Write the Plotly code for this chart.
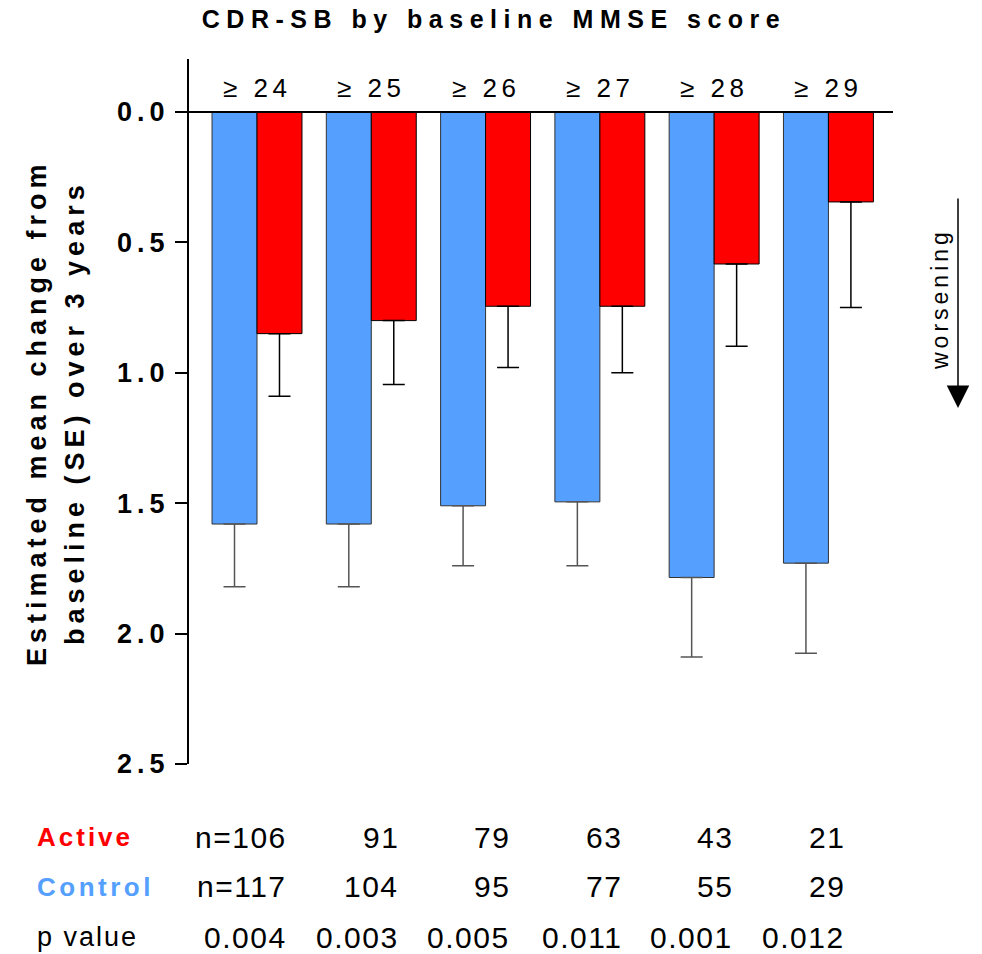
import plotly.graph_objects as go

# Baseline MMSE strata and the CDR-SB change (mean, SE) per arm
categories = ["≥ 24", "≥ 25", "≥ 26", "≥ 27", "≥ 28", "≥ 29"]
control_mean = [1.58, 1.58, 1.51, 1.495, 1.785, 1.73]
control_se = [0.24, 0.24, 0.23, 0.245, 0.305, 0.345]
active_mean = [0.85, 0.80, 0.745, 0.745, 0.583, 0.345]
active_se = [0.24, 0.245, 0.235, 0.255, 0.315, 0.405]

# Table rows under the plot
active_n = ["n=106", "91", "79", "63", "43", "21"]
control_n = ["n=117", "104", "95", "77", "55", "29"]
p_values = ["0.004", "0.003", "0.005", "0.011", "0.001", "0.012"]
y_ticks = [0.0, 0.5, 1.0, 1.5, 2.0, 2.5]

BLUE = "#559FFF"
RED = "#FF0000"
SANS = "Liberation Sans, Arial, sans-serif"

W, H = 982, 954
L, R, T, B = 189, 89, 59, 190


def spaced(text, px):
    return f'<span style="letter-spacing:{px}px">{text}</span>'


def paper_x(px):
    return (px - L) / (W - L - R)


def paper_y(py):
    return 1 - (py - T) / (H - T - B)


xs = list(range(len(categories)))

fig = go.Figure()
fig.add_trace(go.Bar(
    x=xs, y=control_mean, name="Control",
    marker=dict(color=BLUE, line=dict(color="#333333", width=1)),
    error_y=dict(type="data", array=control_se, arrayminus=[0] * len(xs),
                 symmetric=False, color="#555555", thickness=1.5, width=11),
))
fig.add_trace(go.Bar(
    x=xs, y=active_mean, name="Active",
    marker=dict(color=RED, line=dict(color="#000000", width=1)),
    error_y=dict(type="data", array=active_se, arrayminus=[0] * len(xs),
                 symmetric=False, color="#000000", thickness=1.5, width=11),
))

annotations = []

# stratum labels above the bars
for i, cat in enumerate(categories):
    annotations.append(dict(
        x=i, y=-0.092, xref="x", yref="y", text=spaced(cat, 4.5), showarrow=False,
        xanchor="center", yanchor="middle",
        font=dict(family=SANS, size=26, color="black"),
    ))

# y-axis title on two lines
for px, line in [(37, "Estimated mean change from"), (75, "baseline (SE) over 3 years")]:
    annotations.append(dict(
        x=paper_x(px), y=paper_y(413), xref="paper", yref="paper",
        text=spaced(line, 5), textangle=-90, showarrow=False,
        xanchor="center", yanchor="middle",
        font=dict(family=SANS, size=27, color="black", weight="bold"),
    ))

# table rows
rows = [
    (837, "Active", dict(family=SANS, size=26, color=RED, weight="bold"), 3, active_n),
    (887, "Control", dict(family=SANS, size=26, color=BLUE, weight="bold"), 3.5, control_n),
    (937, "p value", dict(family=SANS, size=27, color="black"), 2, p_values),
]
for py, label, lfont, ls, values in rows:
    annotations.append(dict(
        x=paper_x(35), y=paper_y(py), xref="paper", yref="paper",
        text=spaced(label, ls), showarrow=False, xanchor="left", yanchor="middle",
        font=lfont,
    ))
    for i, v in enumerate(values):
        annotations.append(dict(
            x=i + 0.28 - 0.024 * i, y=paper_y(py), xref="x", yref="paper",
            text=spaced(v, 1.5), showarrow=False, xanchor="right", yanchor="middle",
            font=dict(family=SANS, size=30, color="black"),
        ))

# direction hint on the right
annotations.append(dict(
    x=paper_x(940), y=paper_y(299), xref="paper", yref="paper",
    text=spaced("worsening", 4), textangle=-90, showarrow=False,
    xanchor="center", yanchor="middle",
    font=dict(family=SANS, size=23, color="black"),
))
annotations.append(dict(
    x=paper_x(958), y=paper_y(408), xref="paper", yref="paper",
    text="", showarrow=True, ax=0, ay=-211,
    arrowhead=2, arrowsize=3, arrowwidth=1.5, arrowcolor="black",
))

fig.update_layout(
    width=W, height=H,
    margin=dict(l=L, r=R, t=T, b=B, pad=0),
    paper_bgcolor="white", plot_bgcolor="white",
    showlegend=False,
    barmode="group", bargap=0.213, bargroupgap=0,
    title=dict(
        text=spaced("CDR-SB by baseline MMSE score", 6.5),
        x=494 / W, xanchor="center", y=1 - 19 / H, yanchor="middle",
        font=dict(family=SANS, size=25, color="black", weight="bold"),
    ),
    xaxis=dict(range=[-0.595, 5.565], showticklabels=False, showline=False,
               showgrid=False, zeroline=False, ticks=""),
    yaxis=dict(
        range=[2.5, -0.203], tickvals=y_ticks,
        ticktext=[spaced(f"{v:.1f}", 5) for v in y_ticks],
        tickfont=dict(family=SANS, size=27, color="black", weight="bold"),
        showline=True, linewidth=2, linecolor="black",
        ticks="outside", ticklen=12, tickwidth=2, tickcolor="black",
        ticklabelstandoff=0,
        showgrid=False, zeroline=False,
    ),
    shapes=[dict(type="line", xref="paper", yref="y", x0=0, x1=1, y0=0, y1=0,
                 line=dict(color="black", width=2))],
    annotations=annotations,
)

fig.write_html("out.html")
